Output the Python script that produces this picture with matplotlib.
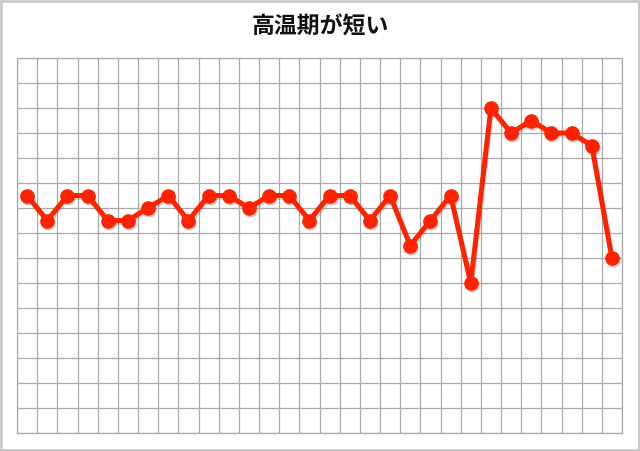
import matplotlib
matplotlib.use('Agg')
import matplotlib.pyplot as plt
import matplotlib.transforms as mtransforms
import numpy as np

plt.rcParams['font.family'] = ['Noto Sans CJK JP', 'DejaVu Sans']

# basal body temperature chart, values in grid units (30 days)
title = '高温期が短い'
days = np.arange(30) + 0.5
temps = [9.5, 8.5, 9.5, 9.5, 8.5, 8.5, 9.0, 9.5, 8.5, 9.5,
         9.5, 9.0, 9.5, 9.5, 8.5, 9.5, 9.5, 8.5, 9.5, 7.5,
         8.5, 9.5, 6.0, 13.0, 12.0, 12.5, 12.0, 12.0, 11.5, 7.0]

fig = plt.figure(figsize=(6.4, 4.51), dpi=100)
ax = fig.add_axes([17/640, 1 - 433/451, 605/640, 375/451])

# gray frame round the whole picture
fig.patches.append(plt.Rectangle((0.002, 0.002), 0.996, 0.996, transform=fig.transFigure,
                                 fill=False, edgecolor='#c8c8c8', linewidth=2))

ax.set_xlim(0, 30)
ax.set_ylim(0, 15)
ax.set_xticks(np.arange(0, 31))
ax.set_yticks(np.arange(0, 16))
ax.grid(True, color='#a9a9a9', linewidth=0.9)
ax.tick_params(length=0, labelbottom=False, labelleft=False)
for s in ax.spines.values():
    s.set_color('#a9a9a9')
    s.set_linewidth(0.9)

# soft drop shadow under the line
shadow = mtransforms.offset_copy(ax.transData, fig=fig, x=1, y=-2, units='dots')
ax.plot(days, temps, color='black', alpha=0.14, linewidth=3.6, marker='o',
        markersize=9.5, transform=shadow, zorder=3)
ax.plot(days, temps, color='#ff2200', linewidth=3.6, marker='o', markersize=9.5, zorder=4)

fig.text(0.5, 1 - 27/451, title, ha='center', va='center', fontsize=16.5,
         fontweight='bold', color='#111111')

fig.savefig('out.png', dpi=100)
